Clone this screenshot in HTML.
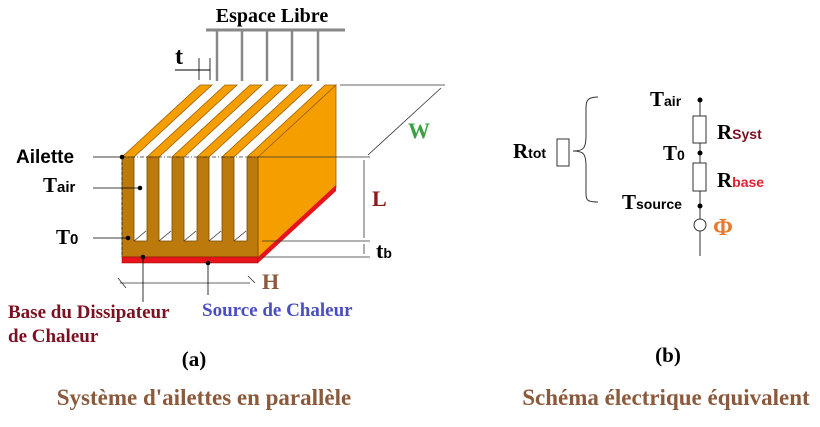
<!DOCTYPE html><html><head><style>body{margin:0;background:#fff}svg{display:block}text{font-family:"Liberation Serif",serif;font-weight:bold}.s{font-family:"Liberation Sans",sans-serif}</style></head><body>
<svg width="820" height="427" viewBox="0 0 820 427" xmlns="http://www.w3.org/2000/svg">
<text x="272" y="22" font-size="20" text-anchor="middle">Espace Libre</text>
<line x1="206" y1="30" x2="345" y2="30" stroke="#888" stroke-width="3"/>
<g stroke="#888" stroke-width="2.5"><line x1="217" y1="30" x2="217" y2="81"/><line x1="242" y1="30" x2="242" y2="81"/><line x1="267" y1="30" x2="267" y2="81"/><line x1="292" y1="30" x2="292" y2="81"/><line x1="318" y1="30" x2="318" y2="81"/></g>
<text x="175" y="64" font-size="24">t</text>
<line x1="175" y1="70" x2="210" y2="70" stroke="#000"/><line x1="199" y1="58" x2="199" y2="80" stroke="#000" stroke-width="0.8"/><line x1="210" y1="58" x2="210" y2="80" stroke="#000" stroke-width="0.8"/>
<polygon points="258,157 336,85 336,188 258,260" fill="#f59e00" stroke="#a06000" stroke-width="0.8"/>
<polygon points="258,257 336,185 336,191 258,263" fill="#e8141c"/>
<g fill="#f59e00" stroke="#a06000" stroke-width="0.8">
<polygon points="122,157 134,157 212,85 200,85"/>
<polygon points="147,157 159,157 237,85 225,85"/>
<polygon points="172,157 184,157 262,85 250,85"/>
<polygon points="197,157 209,157 287,85 275,85"/>
<polygon points="222,157 234,157 312,85 300,85"/>
<polygon points="247,157 258,157 336,85 325,85"/>
</g>
<path d="M122,157 H134 V241 H147 V157 H159 V241 H172 V157 H184 V241 H197 V157 H209 V241 H222 V157 H234 V241 H247 V157 H258 V257 H122 Z" fill="#bb7a0b" stroke="#7a4a00" stroke-width="0.8"/>
<g stroke="#333" stroke-width="0.8"><line x1="134" y1="241" x2="146" y2="231"/><line x1="159" y1="241" x2="171" y2="231"/><line x1="184" y1="241" x2="196" y2="231"/><line x1="209" y1="241" x2="221" y2="231"/><line x1="234" y1="241" x2="246" y2="231"/></g>
<rect x="122" y="257" width="136" height="6" fill="#e8141c" stroke="#900" stroke-width="0.5"/>
<line x1="122" y1="157" x2="122" y2="257" stroke="#333" stroke-dasharray="3,2"/>
<line x1="122" y1="157" x2="258" y2="157" stroke="#333" stroke-dasharray="4,2,1,2" stroke-width="0.8"/>
<g stroke="#333" stroke-width="0.8" fill="none">
<line x1="340" y1="85" x2="445" y2="85"/><line x1="441" y1="88" x2="368" y2="155"/>
<line x1="258" y1="157" x2="370" y2="157"/><line x1="262" y1="241" x2="370" y2="241"/><line x1="262" y1="257" x2="370" y2="257"/>
<line x1="364" y1="160" x2="364" y2="238"/><line x1="364" y1="244" x2="364" y2="254"/>
<line x1="120" y1="283" x2="250" y2="283"/><line x1="118" y1="278" x2="126" y2="288"/><line x1="248" y1="276" x2="255" y2="283"/>
<line x1="93" y1="157" x2="122" y2="157" stroke="#000"/><line x1="93" y1="188" x2="140" y2="188" stroke="#000"/><line x1="93" y1="238" x2="128" y2="238" stroke="#000"/>
<line x1="143" y1="257" x2="143" y2="302" stroke="#000"/><line x1="208" y1="263" x2="208" y2="295" stroke="#000"/>
</g>
<g fill="#000"><circle cx="122" cy="157" r="2.3"/><circle cx="140" cy="188" r="2.3"/><circle cx="128" cy="238" r="2.3"/><circle cx="143" cy="257" r="2.3"/><circle cx="208" cy="263" r="2.3"/></g>
<text x="408" y="138" font-size="22" fill="#3aa040">W</text>
<text x="372" y="206" font-size="22" fill="#8b1a1a">L</text>
<text x="376" y="258" font-size="22">t<tspan font-size="14" class="s">b</tspan></text>
<text x="262" y="289" font-size="22" fill="#8b5a3c">H</text>
<text x="16" y="163" font-size="19" class="s">Ailette</text>
<text x="43" y="192" font-size="21">T<tspan font-size="15" class="s">air</tspan></text>
<text x="56" y="244" font-size="21">T<tspan font-size="15" class="s">0</tspan></text>
<text x="8" y="318" font-size="19" fill="#7b1020">Base du Dissipateur</text>
<text x="8" y="342" font-size="19" fill="#7b1020">de Chaleur</text>
<text x="202" y="316" font-size="19" fill="#4a4ec0">Source de Chaleur</text>
<text x="194" y="366" font-size="21" text-anchor="middle">(a)</text>
<text x="204" y="405" font-size="23" fill="#8b5a3c" text-anchor="middle">Système d'ailettes en parallèle</text>
<g stroke="#333" stroke-width="1" fill="#fff">
<line x1="700" y1="100" x2="700" y2="256"/>
<rect x="693" y="116" width="13" height="27"/><rect x="693" y="163" width="13" height="28"/>
<circle cx="700" cy="225" r="6"/>
<rect x="557" y="139" width="12" height="27"/>
<path d="M598,97 C585,97 586,102 586,115 V135 C586,148 584,151 573,151 C584,151 586,154 586,167 V187 C586,200 585,202 598,202" fill="none"/>
</g>
<g fill="#000"><circle cx="700" cy="100" r="2.5"/><circle cx="700" cy="153" r="2.5"/><circle cx="700" cy="206" r="2.5"/></g>
<text x="650" y="106" font-size="21">T<tspan font-size="14" class="s">air</tspan></text>
<text x="717" y="139" font-size="21">R<tspan font-size="14" class="s" fill="#7b1020">Syst</tspan></text>
<text x="663" y="160" font-size="21">T<tspan font-size="14" class="s">0</tspan></text>
<text x="717" y="187" font-size="21">R<tspan font-size="14" class="s" fill="#e02030">base</tspan></text>
<text x="622" y="209" font-size="21">T<tspan font-size="14" class="s">source</tspan></text>
<text x="713" y="235" font-size="24" fill="#e87a30" font-family="Liberation Sans,sans-serif" font-weight="normal">Φ</text>
<text x="513" y="158" font-size="21">R<tspan font-size="14" class="s">tot</tspan></text>
<text x="668" y="362" font-size="21" text-anchor="middle">(b)</text>
<text x="666" y="405" font-size="23" fill="#8b5a3c" text-anchor="middle">Schéma électrique équivalent</text>
</svg></body></html>
